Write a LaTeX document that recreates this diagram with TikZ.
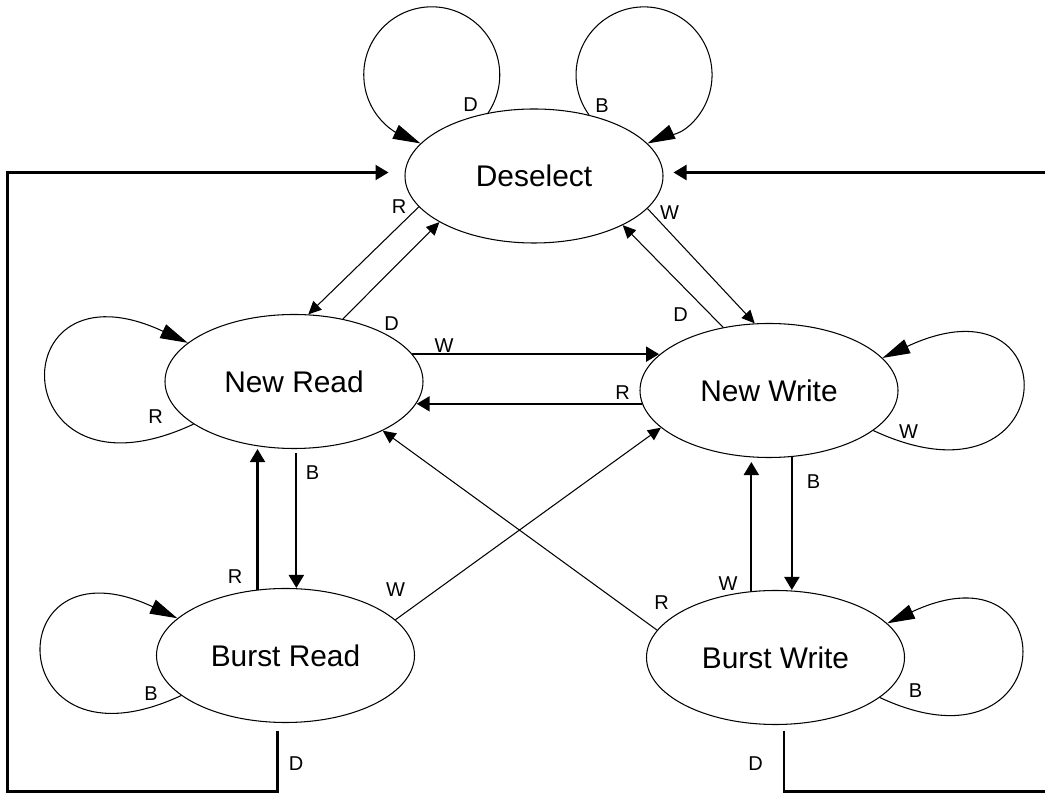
\documentclass[tikz,border=0pt]{standalone}
\usepackage{fontspec}
\setmainfont{Liberation Sans}
\usetikzlibrary{shapes.geometric, arrows.meta, positioning}

\tikzset{
  st/.style={ellipse, draw, line width=0.6pt, minimum width=5.16cm, minimum height=2.68cm,
    inner sep=0pt, font=\fontsize{17}{20}\selectfont},
  lbl/.style={inner sep=0pt, font=\fontsize{11.4}{13}\selectfont},
  thn/.style={line width=0.6pt, -{Triangle[length=0.26cm, width=0.24cm]}},
  thk/.style={line width=1.2pt, -{Triangle[length=0.26cm, width=0.3cm]}},
  lp/.style={line width=0.6pt, -{Triangle[length=0.55cm, width=0.3cm]}},
}

\begin{document}
\begin{tikzpicture}
    \useasboundingbox (0,0) rectangle (20.9,15.88);
    \clip (0,0) rectangle (20.9,15.88);
    % States
    \node[st] (des) at (10.68,12.36) {Deselect};
    \node[st] (nr) at (5.88,8.25) {New Read};
    \node[st] (nw) at (15.38,8.07) {New Write};
    \node[st] (br) at (5.71,2.77) {Burst Read};
    \node[st] (bw) at (15.51,2.73) {Burst Write};
    % Self loops
    \draw[lp] (des.126) arc[start angle=-34, end angle=228, radius=1.36] to[out=318, in=155] (des.164);
    \draw[lp] (des.48) arc[start angle=216, end angle=-48, radius=1.36] to[out=222, in=25] (des.16);
    \draw[lp] (nr.203) to[out=205, in=155, distance=4.2cm] (nr.160);
    \draw[lp] (br.201) to[out=205, in=155, distance=4cm] (br.161);
    \draw[lp] (nw.339) to[out=335, in=25, distance=4.2cm] (nw.16);
    \draw[lp] (bw.339) to[out=335, in=25, distance=4cm] (bw.17);
    % Diagonal transitions
    \draw[thn] (des.195) -- (nr.78);
    \draw[thn] (nr.52) -- (des.206);
    \draw[thn] (des.344) -- (nw.102);
    \draw[thn] (nw.126) -- (des.331);
    \draw[thn] (br.18) -- (nw.199);
    \draw[thn] (bw.167) -- (nr.331);
    % Straight transitions
    \draw[thk] (nr.13) -- (nr.13 -| nw.162);
    \draw[thk] (nw.186) -- (nw.186 -| nr.350);
    \draw[thk, shorten <=0.08cm] (nr.272) -- (nr.272 |- br.north);
    \draw[thk] (br.113) -- (br.113 |- nr.south);
    \draw[thk] (nw.289) -- (nw.289 |- bw.north);
    \draw[thk, shorten >=0.08cm] (bw.110) -- (bw.110 |- nw.south);
    % Back to Deselect
    \coordinate (cbl) at (0.15,0.05);
    \coordinate (cbr) at (21.5,0.05);
    \coordinate (tipl) at (7.77,12.43);
    \coordinate (tipr) at (13.47,12.43);
    \draw[thk] ([xshift=-0.16cm,yshift=-0.16cm]br.south) |- (cbl) |- (tipl);
    \draw[thk] ([xshift=0.17cm,yshift=-0.11cm]bw.south) |- (cbr) |- (tipr);
    % Labels
    \node[lbl] (desD) at (9.41,13.79) {D};
    \node[lbl] (desB) at (12.04,13.77) {B};
    \node[lbl] (desR) at (7.98,11.74) {R};
    \node[lbl] (desW) at (13.39,11.63) {W};
    \node[lbl] (nrD) at (7.83,9.40) {D};
    \node[lbl] (nwD) at (13.61,9.58) {D};
    \node[lbl] (nrW) at (8.88,8.96) {W};
    \node[lbl] (nwR) at (12.45,8.03) {R};
    \node[lbl] (nrR) at (3.11,7.55) {R};
    \node[lbl] (nwW) at (18.17,7.25) {W};
    \node[lbl] (nrB) at (6.25,6.42) {B};
    \node[lbl] (nwB) at (16.27,6.25) {B};
    \node[lbl] (brR) at (4.70,4.35) {R};
    \node[lbl] (brW) at (7.91,4.08) {W};
    \node[lbl] (bwR) at (13.23,3.83) {R};
    \node[lbl] (bwW) at (14.56,4.21) {W};
    \node[lbl] (brB) at (3.02,2.01) {B};
    \node[lbl] (bwB) at (18.31,2.07) {B};
    \node[lbl] (brD) at (5.92,0.61) {D};
    \node[lbl] (bwD) at (15.11,0.61) {D};
\end{tikzpicture}
\end{document}
